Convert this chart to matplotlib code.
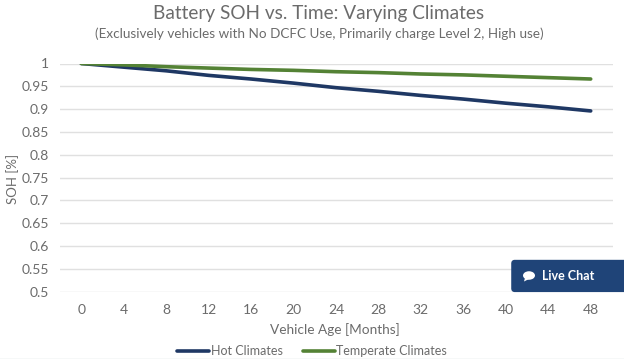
import matplotlib
matplotlib.use("Agg")
import matplotlib.pyplot as plt
from matplotlib.patches import FancyBboxPatch, Ellipse, Polygon

months = [0, 4, 8, 12, 16, 20, 24, 28, 32, 36, 40, 44, 48]
hot = [1.0, 0.992, 0.984, 0.974, 0.966, 0.957, 0.947, 0.939, 0.930, 0.922, 0.913, 0.905, 0.896]
temperate = [1.0, 0.997, 0.993, 0.990, 0.987, 0.985, 0.982, 0.980, 0.977, 0.975, 0.972, 0.969, 0.966]
y_ticks = [0.5, 0.55, 0.6, 0.65, 0.7, 0.75, 0.8, 0.85, 0.9, 0.95, 1.0]
y_labels = ["0.5", "0.55", "0.6", "0.65", "0.7", "0.75", "0.8", "0.85", "0.9", "0.95", "1"]

plt.rcParams['font.family'] = ['Lato', 'DejaVu Sans']
W, H = 624, 359
GREY = '#6b6b6b'
fig = plt.figure(figsize=(W / 100, H / 100), dpi=100, facecolor='white')
ax = fig.add_axes([60 / W, 1 - 291.6 / H, (613 - 60) / W, (291.6 - 63.5) / H])
ax.plot(months, hot, color='#1f3864', lw=2.6, solid_capstyle='round', label='Hot Climates')
ax.plot(months, temperate, color='#548235', lw=2.6, solid_capstyle='round', label='Temperate Climates')
ax.set_xlim(-2, 50.1)
ax.set_ylim(0.5, 1.0)
ax.set_xticks(months)
ax.set_yticks(y_ticks)
ax.set_yticklabels(y_labels)
ax.grid(axis='y', color='#e0e0e0', lw=1)
ax.set_axisbelow(True)
for s in ax.spines.values():
    s.set_visible(False)
ax.tick_params(length=0, labelsize=10, labelcolor=GREY, pad=9)
ax.tick_params(axis='y', pad=8)

fig.text(13 / W, 1 - 179 / H, 'SOH [%]', rotation=90, ha='center', va='center', fontsize=9.5, color=GREY)
fig.text(319 / W, 1 - 13 / H, 'Battery SOH vs. Time: Varying Climates', ha='center', va='center', fontsize=13.7, color=GREY)
fig.text(319 / W, 1 - 34 / H, '(Exclusively vehicles with No DCFC Use, Primarily charge Level 2, High use)', ha='center', va='center', fontsize=9.75, color=GREY)
fig.text(335 / W, 1 - 330 / H, 'Vehicle Age [Months]', ha='center', va='center', fontsize=9.8, color=GREY)

leg = fig.legend(loc='center', bbox_to_anchor=(312 / W, 1 - 351 / H), ncol=2, frameon=False, fontsize=9,
                 labelcolor=GREY, handlelength=2.6, handletextpad=0.1, columnspacing=1.6,
                 borderpad=0, borderaxespad=0)

# page footer line and the chat widget overlaid on the screenshot
fig.add_artist(plt.Line2D([0, 1], [1 - 358.5 / H, 1 - 358.5 / H], color='#d5e0e0', lw=1))
to_px = lambda x, y: (x / W, 1 - y / H)
box = FancyBboxPatch((514 / W, 1 - 289.3 / H), 130 / W, 26.7 / H, boxstyle='round,pad=0,rounding_size=0.001',
                     transform=fig.transFigure, fc='#1f4478', ec='#1f4478', lw=4, joinstyle='round', zorder=5)
fig.add_artist(box)
fig.add_artist(Ellipse(to_px(529, 275.5), 12 / W, 8.5 / H, transform=fig.transFigure, fc='white', ec='none', zorder=6))
fig.add_artist(Polygon([to_px(525, 278), to_px(529, 279), to_px(524, 281.5)], closed=True, transform=fig.transFigure, fc='white', ec='none', zorder=6))
fig.text(542 / W, 1 - 276 / H, 'Live Chat', ha='left', va='center', fontsize=9, fontweight='bold', color='white', zorder=7)

fig.savefig('out.png', dpi=100)
